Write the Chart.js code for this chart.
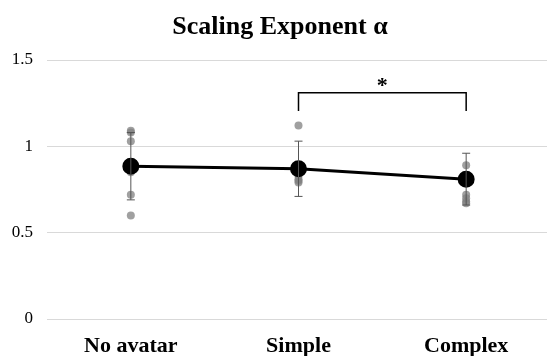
<!DOCTYPE html>
<html>
<head>
    <meta charset="utf-8">
    <title>Scaling Exponent</title>
    <script src="https://cdn.jsdelivr.net/npm/chart.js"></script>
    <style>
        html, body { margin: 0; padding: 0; background: #fff; overflow: hidden; }
        #alphaChart { display: block; }
    </style>
</head>
<body>
    <canvas id="alphaChart" width="560" height="356"></canvas>

    <script>
        // Data
        const conditions = ['No avatar', 'Simple', 'Complex'];
        const meanAlpha = [0.885, 0.87, 0.81];
        const sdAlpha = [0.195, 0.16, 0.15];
        const noAvatarPts = [1.09, 1.08, 1.03, 0.87, 0.85, 0.72, 0.60];
        const simplePts = [1.12, 0.87, 0.83, 0.81, 0.80, 0.79];
        const complexPts = [0.89, 0.81, 0.72, 0.70, 0.68, 0.67];
        const yTicks = [0, 0.5, 1, 1.5];
        // significance bracket between Simple and Complex
        const bracket = { from: 'Simple', to: 'Complex', top: 1.31, leg: 1.205, label: '*' };

        const serif = "'Liberation Serif', 'Times New Roman', serif";

        const individual = [];
        [noAvatarPts, simplePts, complexPts].forEach((arr, i) => {
            arr.forEach(v => individual.push({ x: conditions[i], y: v }));
        });

        // draws SD error bars and the bracket using the chart scales
        const extrasPlugin = {
            id: 'extras',
            afterDatasetsDraw(chart) {
                const ctx = chart.ctx;
                const xs = chart.scales.x, ys = chart.scales.y;
                ctx.save();
                ctx.strokeStyle = '#555';
                ctx.lineWidth = 1;
                meanAlpha.forEach((m, i) => {
                    const x = xs.getPixelForValue(i);
                    const y1 = ys.getPixelForValue(m - sdAlpha[i]);
                    const y2 = ys.getPixelForValue(m + sdAlpha[i]);
                    ctx.beginPath();
                    ctx.moveTo(x, y1); ctx.lineTo(x, y2);
                    ctx.moveTo(x - 4, y1); ctx.lineTo(x + 4, y1);
                    ctx.moveTo(x - 4, y2); ctx.lineTo(x + 4, y2);
                    ctx.stroke();
                });
                // bracket
                const bx1 = xs.getPixelForValue(conditions.indexOf(bracket.from));
                const bx2 = xs.getPixelForValue(conditions.indexOf(bracket.to));
                const by = ys.getPixelForValue(bracket.top);
                const bl = ys.getPixelForValue(bracket.leg);
                ctx.strokeStyle = '#000';
                ctx.lineWidth = 1.5;
                ctx.beginPath();
                ctx.moveTo(bx1, bl); ctx.lineTo(bx1, by); ctx.lineTo(bx2, by); ctx.lineTo(bx2, bl);
                ctx.stroke();
                ctx.fillStyle = '#000';
                ctx.font = 'bold 22px ' + serif;
                ctx.textAlign = 'center';
                ctx.textBaseline = 'bottom';
                ctx.fillText(bracket.label, (bx1 + bx2) / 2, by + 5);
                ctx.restore();
            }
        };

        const ctx = document.getElementById('alphaChart').getContext('2d');
        const chart = new Chart(ctx, {
            type: 'line',
            data: {
                labels: conditions,
                datasets: [
                    {
                        label: 'Mean',
                        data: meanAlpha,
                        borderColor: '#000',
                        backgroundColor: '#000',
                        borderWidth: 3,
                        pointRadius: 7,
                        pointBackgroundColor: '#000',
                        fill: false,
                        order: 0
                    },
                    {
                        type: 'scatter',
                        label: 'Participants',
                        data: individual,
                        backgroundColor: 'rgba(128,128,128,0.75)',
                        borderWidth: 0,
                        pointRadius: 4,
                        order: 1
                    }
                ]
            },
            options: {
                responsive: false,
                animation: false,
                layout: { padding: 0 },
                plugins: {
                    legend: { display: false },
                    tooltip: { enabled: false },
                    title: {
                        display: true,
                        text: 'Scaling Exponent α',
                        color: '#000',
                        font: { family: serif, size: 26, weight: 'bold' },
                        padding: { top: 12, bottom: 16.8 }
                    }
                },
                scales: {
                    x: {
                        type: 'category',
                        offset: true,
                        grid: { display: false },
                        border: { display: false },
                        afterFit: axis => {
                            axis.height = 37;
                            axis.paddingLeft = 0;
                            axis.paddingRight = 0;
                        },
                        ticks: {
                            color: '#000',
                            padding: 6,
                            maxRotation: 0,
                            font: { family: serif, size: 22, weight: 'bold' }
                        }
                    },
                    y: {
                        min: 0,
                        max: 1.5,
                        afterBuildTicks: axis => { axis.ticks = yTicks.map(v => ({ value: v })); },
                        afterFit: axis => { axis.width = 47; },
                        grid: { color: '#d9d9d9', drawTicks: false },
                        border: { display: false },
                        ticks: {
                            color: '#000',
                            padding: 14,
                            font: { family: serif, size: 17 },
                            callback: v => String(v)
                        }
                    }
                }
            },
            plugins: [extrasPlugin]
        });
    </script>
</body>
</html>
